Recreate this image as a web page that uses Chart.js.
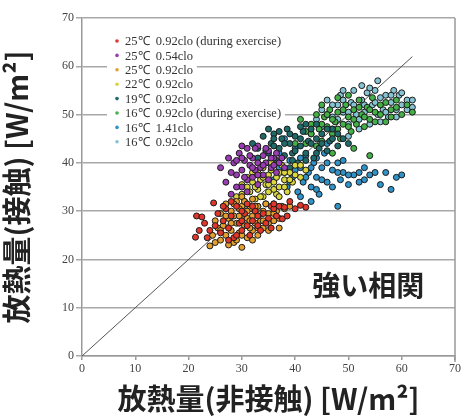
<!DOCTYPE html>
<html><head><meta charset="utf-8">
<script src="https://cdn.jsdelivr.net/npm/chart.js@4.4.1/dist/chart.umd.min.js"></script>
<style>html,body{margin:0;padding:0;background:#fff}#wrap{width:466px;height:418px}</style>
</head><body><div id="wrap"><canvas id="c" width="466" height="418"></canvas></div>
<script>
const seriesLabels = ["25℃  0.92clo (during exercise)","25℃  0.54clo","25℃  0.92clo","22℃  0.92clo","19℃  0.92clo","16℃  0.92clo (during exercise)","16℃  1.41clo","16℃  0.92clo"];
const seriesColors = ["#e0362c","#9a3db3","#e3a02e","#d9d63e","#1f6b6a","#45b048","#2f93c9","#86c4d4"];
const xTicks = [0,10,20,30,40,50,60,70];
const yTicks = [0,10,20,30,40,50,60,70];
const diagonal = [[0,0],[62,62]];
const noteText = "強い相関";
const notePos = [53.7,14.7];
const xTitle = "放熱量(非接触) [W/m²]";
const yTitle = "放熱量(接触) [W/m²]";

const red = [[21.3,24.6],[21.5,29],[22.5,28.8],[24.7,31.7],[25,27],[26,25.5],[26.5,28],[27,30.5],[27.5,26.5],[28,29],[28.5,24.5],[29,31],[29.5,27.5],[30,26],[30.5,29.5],[31,31.5],[31.5,25],[32,28],[32.5,30],[33,27],[33.5,26],[34,29.5],[35,28.5],[35.5,31],[36,30.5],[37,31],[37.6,28.4],[38,30.8],[36.5,29],[42,30.8],[24,26],[23,27.5],[28,32],[30,30],
  [22,26],[23.5,24.5],[25.5,29.5],[26.5,31],[27.5,24],[29,25],[30,28],[31,27],[32,31],[33,29],[34.5,27.5],[35.5,26.5],[36,31.5],[38.5,29],[40,30.5],[41,31.2],[39,32]];
const purple = [[26,39],[27,36],[28,33.5],[28.5,40],[29,37.5],[29.5,42],[30,38.5],[30,35],[30.5,40.5],[31,43],[31,36.5],[31.5,39.5],[32,41],[32,37],[32.5,38.5],[33,40],[33,43.5],[33.5,39],[34,41.5],[34,37.5],[34.5,40],[35,42.5],[35.5,39],[36,41],[36.5,38],[37,40],[31,34],[29,40.5],[33,35.5],[35,36.5],
  [28,38],[29,35],[30,41],[30.5,37],[31.5,41.5],[32,39],[32.5,43],[33,37.5],[34,39.5],[34.5,43],[35.5,41],[36,39.5],[36.5,42],[37.5,41],[38,39],[30,43.5],[27.5,41]];
const orange = [[24,22.8],[24.5,25],[25,23.5],[25.5,26.5],[26,24],[26.5,27],[27,25],[27.5,28.5],[28,26],[28,30],[28.5,23.5],[29,27.5],[29,32],[29.5,25.5],[30,29],[30,31],[30.5,27],[31,24.5],[31,28.5],[31.5,30.5],[32,26],[32,29],[32.5,27.5],[33,31],[33,25],[33.5,28],[34,30],[34,26.5],[35,27.5],[35,29.5],[36,28],[36.5,30],[37,26.5],[26,29.5],[27,31.5],[30,33],[28.5,29],[31.5,26.5],[34.5,31.5],[29.5,30.5],[38,30.5],[39,31],
  [25,28],[26,26],[27,29],[27.5,23],[28,27.5],[28.5,31.5],[29,24],[29.5,29],[30,25],[30.5,32],[31,30],[31.5,28],[32,24],[32.5,31],[33,26.5],[33.5,29.5],[34,28],[35,26],[36,29.5],[37,28.5],[32,32.5],[30,22.5]];
const yellow = [[29,33],[30,35.5],[30.5,32],[31,37],[31.5,34],[32,36],[32.5,32.5],[33,38],[33,34.5],[33.5,36.5],[34,33],[34,39],[34.5,35.5],[35,37.5],[35,34],[35.5,40],[36,36],[36.5,33.5],[37,38],[37,35],[37.5,39.5],[38,36.5],[38.5,34],[39,38],[39.5,36],[40,39.5],[41,37],[42,38.5],[32,30.5],[36,31.5],
  [30,33.5],[31,35],[32,38],[32.5,35],[33.5,33],[34,37],[35,35.5],[35.5,38.5],[36,34.5],[36.5,37],[37,33],[38,38],[38,35],[39,36.5],[40,37.5],[41,39.5],[33,31],[34.5,31.5],[37.5,31]];
const teal = [[32,44],[33,41],[34,45.5],[35,42],[35.5,44],[36,46],[36.5,40.5],[37,43],[37.5,45],[38,41.5],[38.5,47],[39,44],[39.5,42],[40,45.5],[40.5,40],[41,43.5],[41.5,46.5],[42,42],[42.5,44.5],[43,47],[43.5,41],[44,45],[44.5,43],[45,46],[46,42.5],[46.5,44.5],[47,47],[48,43.5],[49,45],[50,44],[39,39],[42,48],
  [33,43],[34.5,42.5],[35,47],[36,43.5],[37,46.5],[38,44],[39,46],[39.5,40.5],[40,42.5],[41,45],[42,40.5],[43,44],[44,42],[45,44],[46,47],[47,45],[48,46],[44,48],[41,47.5],[36,45]];
const green = [[40,44],[41,49],[42,46.5],[43,48],[44,50],[44.5,47],[45,44.5],[45.5,49.5],[46,47.5],[46.5,51],[47,46],[47.5,48.5],[48,50.5],[48.5,45],[49,48],[49.5,52],[50,49.5],[50.5,46.5],[51,51],[51.5,48],[52,53],[52.5,50],[53,47.5],[53.5,51.5],[54,49],[54.5,53.5],[55,50.5],[56,52],[57,48.5],[58,51],[59,53],[60,50],[62,50.5],[51,43],[54,41.5],[47,42],
  [42,44],[43,46],[44,43.5],[45,48],[46,50],[47,49],[48,47],[49,51],[50,47.5],[51,49],[52,51.5],[53,49.5],[54,51],[55,48.5],[56,50],[57,52.5],[58,49.5],[59,51.5],[61,52],[45,52],[48,53.5],[50,54]];
const blue = [[35,40],[36,36.5],[37,42],[38,38],[38.5,35],[39,40.5],[39.5,37],[40,43],[40.5,34],[41,39],[41.5,36],[42,41.5],[42.5,38],[43,35],[43.5,40],[44,37],[44.5,33.5],[45,39],[45.5,42],[46,36],[47,38.5],[48,40],[48.5,36.5],[49,38],[50,35.5],[51,37.5],[52,38],[53,36.5],[54,37.5],[57,38],[58,34.5],[59,37],[60,37.5],[55,38],[48,31],[43,32],[46,44],[38,45],
  [37,39],[39,36],[40,38.5],[41,41],[42,37],[43,39],[44,41],[45,36.5],[46,40],[47,35],[48,38],[49,40.5],[50,37.5],[52,36],[53,39],[56,35.5],[44,34.5],[41,33]];
const lightblue = [[44,49],[45,51],[46,53],[47,49.5],[48,52],[48.5,54],[49,50.5],[50,48],[50.5,52.5],[51,55],[51.5,50],[52,47],[52.5,53],[53,50.5],[53.5,54.5],[54,48],[54.5,52],[55,55],[55.5,50],[56,53.5],[56.5,51],[57,54],[57.5,49.5],[58,52.5],[58.5,55],[59,51],[59.5,54],[60,52],[61,53],[62,51.5],[55.5,57],[47,47],[50,45.5],[43,46],
  [45,47.5],[46,50],[47,52],[48,49],[49,53],[50,50.5],[51,52],[52,49],[53,52],[54,55.5],[55,52.5],[56,48.5],[57,50.5],[58,54],[59,49.5],[60,54.5],[61,51],[62,53],[52.5,56],[49,55]];
const seriesData = [red,purple,orange,yellow,teal,green,blue,lightblue];

const toPts = a => a.map(p => ({x:p[0], y:p[1]}));
const datasets = [{
  type:'line', label:'_diag', data: toPts(diagonal), borderColor:'#555', borderWidth:1,
  pointRadius:0, fill:false, order:10
}];
seriesLabels.forEach((l,i)=>datasets.push({
  type:'scatter', label:l, data: toPts(seriesData[i]), backgroundColor: seriesColors[i],
  borderColor:'#1a1a1a', borderWidth:1, pointRadius:3, order:1
}));

const legendPlugin = {
  id:'inLegend',
  afterDraw(chart){
    const ctx = chart.ctx, ca = chart.chartArea;
    const sets = chart.data.datasets.filter(d=>d.label[0] !== '_');
    ctx.save();
    ctx.font = '12.5px "Liberation Serif", serif';
    const x0 = ca.left + 33, y0 = ca.top + 23, dy = 14.4;
    sets.forEach((d,i)=>{
      const y = y0 + i*dy;
      const w = ctx.measureText(d.label).width;
      ctx.fillStyle = '#fff';
      ctx.fillRect(x0 - 8, y - 7.5, w + 22, 15);
    });
    sets.forEach((d,i)=>{
      const y = y0 + i*dy;
      ctx.beginPath(); ctx.fillStyle = d.backgroundColor; ctx.arc(x0+2, y, 1.8, 0, Math.PI*2); ctx.fill();
      ctx.fillStyle = '#333'; ctx.textBaseline = 'middle'; ctx.textAlign='left';
      ctx.fillText(d.label, x0 + 10, y + 1);
    });
    const sx = chart.scales.x, sy = chart.scales.y;
    ctx.font = 'bold 28px "Noto Sans CJK JP", sans-serif';
    ctx.fillStyle = '#222'; ctx.textAlign='center'; ctx.textBaseline='middle';
    ctx.fillText(noteText, sx.getPixelForValue(notePos[0]), sy.getPixelForValue(notePos[1]));
    ctx.strokeStyle = '#999'; ctx.lineWidth = 1.5;
    ctx.beginPath(); ctx.moveTo(ca.right, ca.top); ctx.lineTo(ca.right, ca.bottom+6); ctx.stroke();
    ctx.restore();
  }
};

new Chart(document.getElementById('c'), {
  data:{datasets},
  options:{
    responsive:false, animation:false,
    layout:{padding:{top:18, right:11, left:0, bottom:0}},
    plugins:{legend:{display:false}, tooltip:{enabled:false}},
    scales:{
      x:{type:'linear', min:0, max:70,
        afterBuildTicks(s){ s.ticks = xTicks.map(v=>({value:v})); },
        afterFit(s){ s.height = 62; },
        grid:{drawOnChartArea:false, drawTicks:true, tickLength:4, color:'#999', lineWidth:1.5},
        border:{color:'#999', width:1.5},
        ticks:{color:'#444', font:{family:'"Liberation Serif", serif', size:12}, padding:2, maxRotation:0},
        title:{display:true, text:xTitle, color:'#222', font:{family:'"Noto Sans CJK JP", sans-serif', size:29, weight:'bold'}, padding:{top:0,bottom:2}}
      },
      y:{type:'linear', min:0, max:70,
        afterBuildTicks(s){ s.ticks = yTicks.map(v=>({value:v})); },
        afterFit(s){ s.width = 82; },
        grid:{color:'#a8a8a8', lineWidth:1.5, drawTicks:true, tickLength:6},
        border:{color:'#999', width:1.5},
        ticks:{color:'#444', font:{family:'"Liberation Serif", serif', size:12}, padding:2},
        title:{display:true, text:yTitle, color:'#222', font:{family:'"Noto Sans CJK JP", sans-serif', size:29, weight:'bold'}, padding:{top:0,bottom:6}}
      }
    }
  },
  plugins:[legendPlugin]
});
</script></body></html>
